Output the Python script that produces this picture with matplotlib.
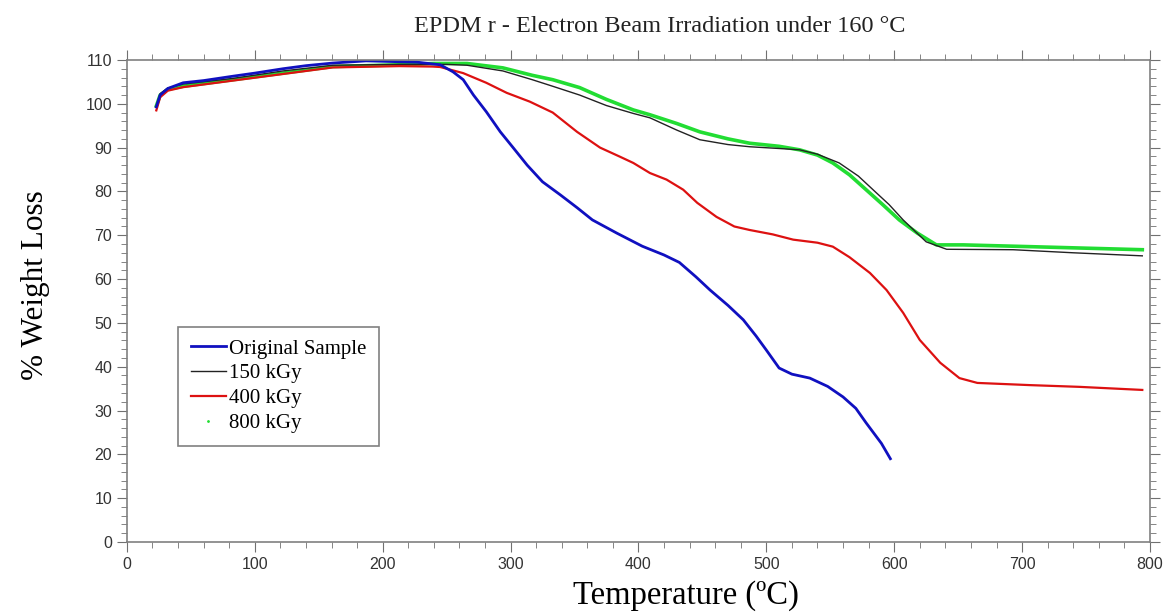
import numpy as np
import matplotlib
matplotlib.use("Agg")
import matplotlib.pyplot as plt
from matplotlib.lines import Line2D
from matplotlib.ticker import MultipleLocator

plt.rcParams["font.family"] = ["Liberation Serif", "DejaVu Serif"]

# temperature (C) and weight (%)
t_orig = [23, 26, 32, 44, 60, 83, 100, 122, 140, 161, 187, 200, 227, 245, 255, 263, 271,
          281, 292, 302, 313, 325, 339, 352, 364, 383, 403, 420, 432, 445, 456, 470,
          482, 492, 500, 510, 520, 534, 548, 560, 570, 578, 590, 597]
w_orig = [99.3, 102, 103.5, 104.8, 105.3, 106.3, 107, 108, 108.7, 109.3, 109.8, 109.7,
          109.5, 108.9, 107.3, 105.5, 102, 98.2, 93.6, 90, 86, 82.2, 79.2, 76.3, 73.5,
          70.5, 67.5, 65.5, 63.8, 60.5, 57.5, 54, 50.7, 47, 43.8, 39.7, 38.3, 37.4,
          35.5, 33.1, 30.5, 27.2, 22.5, 19]

t_150 = [23, 26, 32, 44, 83, 122, 161, 213, 250, 266, 294, 317, 333, 354, 375, 396, 409,
         430, 448, 470, 487, 510, 526, 540, 557, 572, 586, 596, 607, 625, 641, 693,
         740, 794]
w_150 = [99.5, 102.3, 103.6, 104.5, 105.8, 107.5, 108.8, 109, 109, 108.8, 107.5, 105.5,
         104, 102, 99.6, 97.8, 96.8, 94, 91.8, 90.7, 90.2, 89.8, 89.5, 88.5, 86.5,
         83.5, 79.7, 77, 73.5, 68.5, 66.8, 66.7, 66, 65.3]

t_400 = [23, 26, 32, 44, 83, 122, 161, 213, 239, 245, 263, 281, 297, 315, 333, 352, 370,
         385, 396, 409, 422, 435, 446, 461, 475, 487, 505, 521, 540, 552, 565, 581,
         594, 607, 620, 636, 651, 665, 706, 745, 794]
w_400 = [98.5, 101.5, 103, 103.8, 105.3, 106.8, 108.3, 108.6, 108.5, 108.4, 107, 104.8,
         102.5, 100.5, 98, 93.6, 90, 88, 86.5, 84.2, 82.7, 80.4, 77.4, 74.2, 72,
         71.2, 70.2, 69, 68.3, 67.4, 65, 61.4, 57.5, 52.3, 46.1, 40.9, 37.4, 36.3,
         35.8, 35.4, 34.7]

t_800 = [23, 26, 32, 44, 83, 122, 161, 213, 240, 266, 294, 317, 333, 354, 375, 396, 409,
         430, 448, 470, 487, 510, 526, 540, 552, 565, 578, 591, 604, 618, 633, 654,
         706, 794]
w_800 = [99.5, 102, 103.3, 104, 105.5, 107, 108.5, 108.9, 109.2, 109.2, 108.2, 106.5,
         105.5, 103.7, 101, 98.6, 97.5, 95.5, 93.6, 92, 91, 90.3, 89.5, 88.3, 86.5,
         83.8, 80.4, 77, 73.5, 70.5, 67.8, 67.8, 67.4, 66.7]

fig = plt.figure(figsize=(11.75, 6.14), dpi=100)
ax = fig.add_axes([0.108, 0.1173, 0.8707, 0.785])

ax.plot(t_800, w_800, color="#22dd33", lw=2.6)
ax.plot(t_150, w_150, color="#222222", lw=1.0)
ax.plot(t_400, w_400, color="#dd1111", lw=1.6)
ax.plot(t_orig, w_orig, color="#1010c0", lw=2.0)

ax.set_xlim(0, 800)
ax.set_ylim(0, 110)
ax.xaxis.set_major_locator(MultipleLocator(100))
ax.xaxis.set_minor_locator(MultipleLocator(20))
ax.yaxis.set_major_locator(MultipleLocator(10))
ax.yaxis.set_minor_locator(MultipleLocator(2))
ax.tick_params(which="both", direction="out", top=True, right=True,
               color="#707070", labelcolor="#333333")
ax.tick_params(which="major", length=7)
ax.tick_params(which="minor", length=4)
for lab in ax.get_xticklabels() + ax.get_yticklabels():
    lab.set_family(["Liberation Sans", "DejaVu Sans"])
    lab.set_fontsize(11.5)
for s in ax.spines.values():
    s.set_color("#808080")
    s.set_linewidth(1.2)

ax.set_xlabel("Temperature (ºC)", fontsize=23.5)
ax.xaxis.set_label_coords(0.546, -0.08)
ax.set_ylabel("% Weight Loss", fontsize=22.5)
ax.yaxis.set_label_coords(-0.075, 0.533)
ax.set_title("EPDM r - Electron Beam Irradiation under 160 °C", fontsize=17.5, pad=20,
             color="#222222", x=0.521)

handles = [
    Line2D([], [], color="#1010c0", lw=2.0),
    Line2D([], [], color="#222222", lw=1.0),
    Line2D([], [], color="#dd1111", lw=1.6),
    Line2D([], [], color="#22dd33", ls="none", marker=".", markersize=2),
]
labels = ["Original Sample", "150 kGy", "400 kGy", "800 kGy"]
leg = ax.legend(handles, labels, loc="lower left", bbox_to_anchor=(0.05, 0.2),
                fontsize=15, fancybox=False, framealpha=1, edgecolor="#808080",
                handlelength=1.7, handletextpad=0.15, labelspacing=0.25,
                borderpad=0.6, borderaxespad=0)
leg.get_frame().set_linewidth(1.2)

fig.savefig("out.png", dpi=100)
